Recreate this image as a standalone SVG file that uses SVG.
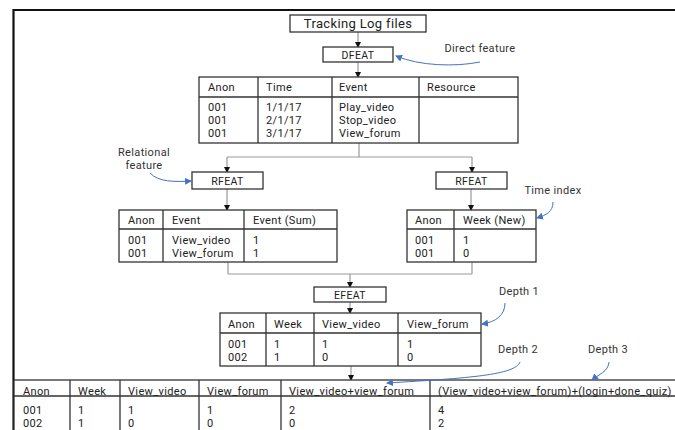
<svg xmlns="http://www.w3.org/2000/svg" width="675" height="430" viewBox="0 0 675 430">
<defs>
<marker id="ah" markerWidth="6" markerHeight="6" refX="5" refY="3" orient="auto" markerUnits="userSpaceOnUse"><path d="M0,0 L6,3 L0,6 Z" fill="#111"/></marker>
<marker id="bh" markerWidth="7" markerHeight="7" refX="6" refY="3.5" orient="auto" markerUnits="userSpaceOnUse"><path d="M0,0 L7,3.5 L0,7 Z" fill="#4472C4"/></marker>
<style>
text{font-family:Roboto,"Open Sans",sans-serif;font-size:11px;fill:#222;letter-spacing:0.35px}
.title{font-size:13px}
.box{font-size:10.5px}
.nb{fill:#fff;stroke:#333;stroke-width:1.3}
.tb{fill:#fff;stroke:#333;stroke-width:1.3}
.grid{stroke:#333;stroke-width:1.3;fill:none}
.con{stroke:#999;stroke-width:1.2;fill:none}
.arr{stroke:#999;stroke-width:1.2;fill:none;marker-end:url(#ah)}
.blue{stroke:#4472C4;stroke-width:1;fill:none;marker-end:url(#bh)}
.ann{font-size:11px;fill:#333}
</style>
</defs>
<rect width="675" height="430" fill="#fff"/>
<path d="M13.5,430 V10 H675" stroke="#111" stroke-width="2.2" fill="none"/>

<g id="connectors">
<path class="arr" d="M358,32 V47"/>
<path class="arr" d="M358,62 V77"/>
<path class="con" d="M359,143 V157 M227,157 H472"/>
<path class="arr" d="M227,157 V172"/>
<path class="arr" d="M472,157 V172"/>
<path class="arr" d="M227,189 V210"/>
<path class="arr" d="M471,189 V210"/>
<path class="con" d="M228,262 V274 M472,262 V274 M228,274 H472"/>
<path class="arr" d="M350,274 V287"/>
<path class="arr" d="M350,302 V313"/>
<path class="arr" d="M351,366 V380"/>
</g>

<g id="tracking">
<rect class="nb" x="290" y="15" width="136" height="17"/>
<text class="title" x="358" y="28" text-anchor="middle">Tracking Log files</text>
</g>

<g id="dfeat">
<rect class="nb" x="323" y="47" width="70" height="15"/>
<text class="box" x="358" y="58.5" text-anchor="middle">DFEAT</text>
</g>

<g id="dfeat-table">
<rect class="tb" x="199" y="77" width="319" height="66"/>
<path class="grid" d="M199,97 H518 M258,77 V143 M332,77 V143 M419,77 V143"/>
<text x="208" y="91">Anon</text><text x="266" y="91">Time</text><text x="339" y="91">Event</text><text x="427" y="91">Resource</text>
<text x="208" y="111"><tspan>001</tspan><tspan x="208" dy="13">001</tspan><tspan x="208" dy="13">001</tspan></text>
<text x="266" y="111"><tspan>1/1/17</tspan><tspan x="266" dy="13">2/1/17</tspan><tspan x="266" dy="13">3/1/17</tspan></text>
<text x="339" y="111"><tspan>Play_video</tspan><tspan x="339" dy="13">Stop_video</tspan><tspan x="339" dy="13">View_forum</tspan></text>
</g>

<g id="rfeat-left">
<rect class="nb" x="192" y="172" width="71" height="17"/>
<text class="box" x="227.5" y="184.5" text-anchor="middle">RFEAT</text>
</g>

<g id="rfeat-right">
<rect class="nb" x="436" y="172" width="71" height="17"/>
<text class="box" x="471.5" y="184.5" text-anchor="middle">RFEAT</text>
</g>

<g id="rfeat-left-table">
<rect class="tb" x="119" y="210" width="218" height="52"/>
<path class="grid" d="M119,229 H337 M163,210 V262 M244,210 V262"/>
<text x="128" y="224">Anon</text><text x="172" y="224">Event</text><text x="253" y="224">Event (Sum)</text>
<text x="128" y="244"><tspan>001</tspan><tspan x="128" dy="13">001</tspan></text>
<text x="172" y="244"><tspan>View_video</tspan><tspan x="172" dy="13">View_forum</tspan></text>
<text x="253" y="244"><tspan>1</tspan><tspan x="253" dy="13">1</tspan></text>
</g>

<g id="rfeat-right-table">
<rect class="tb" x="407" y="210" width="129" height="52"/>
<path class="grid" d="M407,229 H536 M454,210 V262"/>
<text x="415" y="224">Anon</text><text x="463" y="224">Week (New)</text>
<text x="415" y="244"><tspan>001</tspan><tspan x="415" dy="13">001</tspan></text>
<text x="463" y="244"><tspan>1</tspan><tspan x="463" dy="13">0</tspan></text>
</g>

<g id="efeat">
<rect class="nb" x="314" y="287" width="72" height="15"/>
<text class="box" x="350" y="298.5" text-anchor="middle">EFEAT</text>
</g>

<g id="efeat-table">
<rect class="tb" x="220" y="313" width="261" height="53"/>
<path class="grid" d="M220,333 H481 M266,313 V366 M314,313 V366 M398,313 V366"/>
<text x="228" y="327.5">Anon</text><text x="274" y="327.5">Week</text><text x="322" y="327.5">View_video</text><text x="407" y="327.5">View_forum</text>
<text x="228" y="348"><tspan>001</tspan><tspan x="228" dy="13">002</tspan></text>
<text x="274" y="348"><tspan>1</tspan><tspan x="274" dy="13">1</tspan></text>
<text x="322" y="348"><tspan>1</tspan><tspan x="322" dy="13">0</tspan></text>
<text x="407" y="348"><tspan>1</tspan><tspan x="407" dy="13">0</tspan></text>
</g>

<g id="final-table">
<rect class="tb" x="14" y="380" width="670" height="60"/>
<path class="grid" d="M14,396 H684 M70,380 V440 M120,380 V440 M199,380 V440 M281,380 V440 M430,380 V440"/>
<text x="23" y="394.5">Anon</text><text x="78" y="394.5">Week</text><text x="128" y="394.5">View_video</text><text x="207" y="394.5">View_forum</text><text x="289" y="394.5">View_video+view_forum</text><text x="438" y="394.5">(View_video+view_forum)+(login+done_quiz)</text>
<text x="23" y="414"><tspan>001</tspan><tspan x="23" dy="13">002</tspan></text>
<text x="78" y="414"><tspan>1</tspan><tspan x="78" dy="13">1</tspan></text>
<text x="128" y="414"><tspan>1</tspan><tspan x="128" dy="13">0</tspan></text>
<text x="207" y="414"><tspan>1</tspan><tspan x="207" dy="13">0</tspan></text>
<text x="289" y="414"><tspan>2</tspan><tspan x="289" dy="13">0</tspan></text>
<text x="438" y="414"><tspan>4</tspan><tspan x="438" dy="13">2</tspan></text>
</g>

<g id="ann-direct">
<text class="ann" x="480" y="52" text-anchor="middle">Direct feature</text>
<path class="blue" d="M480,62 C455,67 420,66 396,56"/>
</g>
<g id="ann-relational">
<text class="ann" x="144" y="156" text-anchor="middle"><tspan>Relational</tspan><tspan x="144" dy="13">feature</tspan></text>
<path class="blue" d="M150,173 C158,182 175,182 191,181"/>
</g>
<g id="ann-time">
<text class="ann" x="553" y="194" text-anchor="middle">Time index</text>
<path class="blue" d="M553,202 C553,212 546,215 537,218"/>
</g>
<g id="ann-depth1">
<text class="ann" x="519" y="295" text-anchor="middle">Depth 1</text>
<path class="blue" d="M505,303 C505,315 496,322 482,324"/>
</g>
<g id="ann-depth2">
<text class="ann" x="518" y="353" text-anchor="middle">Depth 2</text>
<path class="blue" d="M520,362 C515,375 470,378 387,383"/>
</g>
<g id="ann-depth3">
<text class="ann" x="608" y="353" text-anchor="middle">Depth 3</text>
<path class="blue" d="M609,362 C608,372 599,374 592,380"/>
</g>
</svg>
